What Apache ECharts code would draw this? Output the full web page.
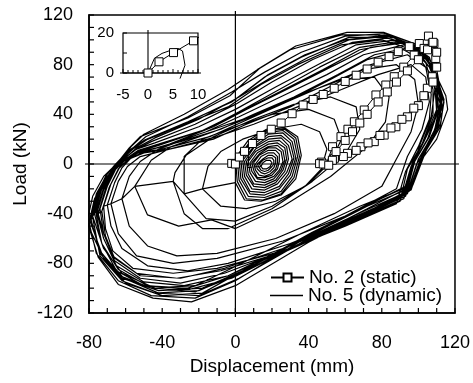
<!DOCTYPE html>
<html>
<head>
<meta charset="utf-8">
<script src="https://cdn.jsdelivr.net/npm/echarts/dist/echarts.min.js"></script>
<style>
  html, body { margin: 0; padding: 0; background: #fff; }
  #chart { width: 473px; height: 383px; }
</style>
</head>
<body>
<div id="chart"></div>
<script>
// Axis ticks (main plot and inset); minor steps give the small inward tick marks
const xTicks = [-80, -40, 0, 40, 80, 120];
const yTicks = [-120, -80, -40, 0, 40, 80, 120];
const insetXTicks = [-5, 0, 5, 10];
const insetYTicks = [0, 10, 20];
const mainMinorStep = 10;
const insetMinorStep = 1;

// No. 2 (static): monotonic push, then two unload / reload cycles near the peak
const staticLoad = [
  [-2, 0.5], [0, 0], [2.2, 5.6], [5, 10.2], [9.3, 16.5], [14, 23], [19.6, 28], [25, 33],
  [31, 40.5], [37, 47.5], [42.5, 52], [48, 56], [54, 61], [60, 66.5], [66, 71.5], [72, 76.5],
  [78, 82], [84, 86.5], [89, 90.5], [95, 94.5], [100.5, 97], [105.5, 103], [108.5, 97],
  [109.5, 85], [107.6, 70.3], [104.9, 61], [100, 47], [94, 38], [87.7, 30], [81.3, 23.3],
  [75.9, 18], [68.6, 13.9], [61.3, 8.6], [54.1, 4.6], [47, 1.5], [46, 0.3], [49.5, -0.8],
  [53.1, 13.9], [57.7, 22], [61.5, 28], [65, 34], [70.4, 43.5], [76.8, 55.6], [82.2, 63.6],
  [86.8, 70.3], [92, 78], [97.7, 87.7], [103.1, 93.1], [107.6, 97.2], [110, 90], [110, 78],
  [108, 66], [103, 55], [97.5, 45], [91, 36], [85, 29], [79, 23], [72.5, 17], [66, 11],
  [59, 6], [53, 3], [48, 0], [51, -1], [55, 10], [60, 19], [64, 26], [68, 33], [72, 40],
  [78, 50], [83, 58], [88, 66], [94, 75], [100, 84], [105, 92], [108, 98]
];

// First cycle of the static test, enlarged in the inset
const insetStatic = [[0, 0], [2.2, 5.6], [5.1, 10.2], [9.1, 16.1], [10.4, 18.3]];

// Start of the No. 5 (dynamic) record, enlarged in the inset
const insetDynamic = [[0, 0], [1.3, 7.4], [2.8, 9.8], [4.7, 11.5], [6, 12.3], [6.9, 11], [7.4, 3.9], [6.4, -2.8]];

// No. 5 (dynamic): hysteresis loops, small central cycles first, then the large cycles
const dynamicLoops = [
  [[14, -2], [15, 1], [17, 3], [19, 3], [20, 1], [19, -2], [17, -4], [15, -4], [14, -2]],
  [[13, -3], [13, 0], [15, 3], [18, 5], [20, 5], [21, 3], [21, 0], [20, -2], [18, -5], [16, -6], [14, -5], [13, -3]],
  [[12, -4], [12, 0], [15, 4], [18, 7], [20, 7], [22, 5], [22, 1], [21, -3], [19, -6], [16, -8], [14, -7], [12, -4]],
  [[11, -5], [11, 0], [14, 6], [18, 9], [21, 9], [23, 6], [23, 1], [22, -4], [19, -8], [16, -10], [13, -9], [11, -5]],
  [[10, -5], [10, 1], [13, 7], [18, 11], [22, 11], [24, 8], [24, 2], [23, -4], [20, -9], [16, -11], [12, -11], [10, -5]],
  [[9, -6], [9, 1], [13, 8], [18, 13], [22, 13], [25, 10], [26, 2], [24, -5], [21, -10], [16, -13], [12, -12], [9, -6]],
  [[8, -7], [8, 1], [12, 9], [18, 14], [23, 15], [26, 11], [27, 3], [25, -5], [21, -12], [16, -15], [11, -14], [8, -7]],
  [[7, -8], [7, 2], [11, 10], [18, 16], [23, 17], [27, 13], [28, 4], [26, -5], [22, -13], [16, -17], [10, -16], [7, -8]],
  [[6, -9], [6, 2], [11, 12], [18, 18], [24, 19], [28, 14], [29, 4], [27, -6], [22, -15], [16, -19], [10, -18], [6, -9]],
  [[5, -10], [5, 2], [10, 13], [18, 20], [25, 21], [29, 15], [31, 4], [28, -7], [23, -16], [16, -21], [9, -20], [5, -10]],
  [[4, -11], [4, 3], [10, 14], [18, 22], [25, 23], [30, 17], [32, 5], [29, -8], [24, -18], [16, -23], [8, -22], [4, -11]],
  [[3, -12], [3, 3], [9, 15], [18, 24], [26, 25], [31, 18], [33, 5], [30, -9], [24, -20], [16, -25], [8, -24], [3, -12]],
  [[2, -13], [2, 4], [8, 17], [17, 25], [26, 27], [32, 20], [34, 6], [31, -10], [25, -22], [16, -27], [7, -26], [2, -13]],
  [[1, -14], [1, 4], [8, 18], [17, 27], [27, 28], [33, 21], [35, 6], [32, -11], [25, -24], [15, -29], [6, -28], [1, -14]],
  [[0, -15], [0, 5], [7, 19], [17, 28], [27, 29], [34, 22], [36, 7], [33, -12], [25, -25], [14, -30], [5, -29], [0, -15]],
  [[-18, -20], [-15, -2], [-8, 10], [4, 20], [20, 28], [36, 32], [46, 26], [50, 12], [47, -4], [38, -18], [22, -30], [6, -36], [-8, -34], [-18, -20]],
  [[-28, -24], [-28, 6], [-18, 20], [0, 30], [20, 40], [40, 44], [54, 36], [58, 20], [52, 2], [40, -16], [20, -34], [0, -46], [-16, -44], [-28, -24]],
  [[-34, -14], [-33, -7], [-27, 7], [-12, 22], [10, 36], [32, 48], [52, 54], [66, 46], [68, 28], [60, 8], [42, -14], [20, -36], [-4, -52], [-18, -52], [-28, -40], [-34, -14]],
  [[-55, -18], [-46, 3], [-35, 14], [-12, 26], [12, 40], [36, 56], [58, 68], [76, 70], [84, 54], [82, 34], [72, 14], [52, -10], [26, -34], [0, -52], [-13, -45], [-31, -50], [-48, -41], [-55, -18]],
  [[-62, -28], [-58, -10], [-52, 2], [-42, 12], [-20, 24], [4, 36], [28, 50], [50, 64], [70, 76], [88, 80], [98, 68], [100, 48], [96, 26], [88, 4], [80, -18], [54, -40], [22, -60], [-10, -72], [-32, -74], [-48, -66], [-58, -50], [-62, -28]],
  [[-68, -32], [-64, -14], [-59, -2], [-52, 6], [-36, 12], [-10, 22], [10, 32], [34, 46], [58, 60], [78, 72], [96, 80], [104, 70], [106, 50], [102, 28], [94, 6], [88, -20], [60, -42], [26, -62], [-10, -76], [-34, -80], [-54, -74], [-64, -56], [-68, -32]],
  [[-70, -33], [-66, -15], [-62, -3], [-57, 5], [-48, 11], [-30, 18], [-8, 28], [10, 40], [32, 54], [56, 72], [76, 88], [96, 94], [106, 82], [109, 60], [107, 38], [101, 16], [95, -10], [90, -28], [62, -45], [30, -64], [-4, -80], [-26, -86], [-48, -82], [-62, -68], [-68, -50], [-70, -33]],
  [[-72, -34], [-68, -16], [-63, -2], [-58, 4], [-50, 9], [-36, 12], [-12, 20], [6, 32], [30, 46], [54, 64], [74, 80], [94, 88], [104, 78], [107, 56], [106, 36], [100, 14], [93, -6], [88, -32], [60, -50], [26, -70], [-10, -84], [-34, -88], [-56, -84], [-67, -70], [-71, -52], [-72, -34]],
  [[-73, -38], [-69, -19], [-64, -4], [-59, 3], [-50, 10], [-36, 16], [-12, 30], [6, 44], [28, 60], [52, 78], [74, 94], [94, 98], [106, 86], [111, 62], [110, 40], [103, 18], [96, -2], [91, -27], [64, -44], [30, -66], [-6, -84], [-30, -92], [-52, -90], [-66, -76], [-71, -58], [-73, -38]],
  [[-75, -40], [-71, -20], [-66, -5], [-61, 2], [-53, 9], [-40, 12], [-14, 22], [4, 34], [28, 50], [52, 68], [72, 84], [92, 92], [104, 82], [108, 60], [108, 40], [102, 16], [94, -4], [90, -30], [62, -48], [28, -70], [-8, -86], [-32, -92], [-54, -88], [-67, -74], [-72, -56], [-75, -40]],
  [[-74, -36], [-70, -18], [-65, -3], [-60, 4], [-52, 10], [-40, 14], [-16, 26], [2, 38], [26, 55], [50, 72], [70, 88], [92, 96], [105, 86], [109, 63], [110, 42], [105, 20], [97, 0], [92, -28], [64, -46], [30, -68], [-6, -88], [-30, -96], [-52, -92], [-66, -78], [-72, -56], [-74, -36]],
  [[-76, -41], [-72, -21], [-67, -6], [-62, 2], [-53, 11], [-42, 16], [-16, 28], [2, 42], [24, 60], [46, 78], [68, 94], [90, 99], [104, 88], [110, 66], [110, 44], [104, 22], [97, 2], [92, -25], [66, -42], [32, -64], [-4, -90], [-26, -100], [-50, -98], [-65, -86], [-73, -64], [-76, -41]],
  [[-76, -38], [-72, -19], [-66, -4], [-61, 3], [-53, 10], [-42, 15], [-18, 27], [0, 40], [24, 58], [48, 76], [68, 92], [90, 98], [104, 88], [110, 66], [111, 44], [106, 22], [98, 2], [93, -26], [66, -44], [33, -66], [-4, -90], [-28, -98], [-50, -95], [-65, -82], [-72, -60], [-76, -38]],
  [[-77, -40], [-73, -20], [-67, -5], [-62, 3], [-54, 12], [-44, 17], [-20, 30], [0, 44], [22, 62], [45, 80], [66, 96], [88, 100], [103, 90], [111, 68], [113, 47], [108, 24], [100, 4], [94, -24], [68, -42], [36, -64], [-2, -92], [-25, -101], [-48, -98], [-64, -85], [-73, -64], [-77, -40]],
  [[-78, -42], [-74, -22], [-68, -6], [-63, 2], [-55, 11], [-46, 18], [-22, 32], [0, 48], [20, 66], [42, 84], [64, 98], [86, 102], [101, 93], [110, 72], [112, 50], [109, 28], [102, 8], [95, -22], [70, -40], [38, -62], [0, -90], [-22, -103], [-44, -100], [-62, -88], [-72, -68], [-78, -42]],
  [[-78, -43], [-74, -23], [-68, -7], [-63, 1], [-54, 13], [-44, 21], [-20, 36], [2, 54], [20, 70], [40, 86], [62, 100], [84, 103], [99, 95], [109, 74], [114, 52], [112, 30], [103, 8], [96, -19], [72, -34], [40, -58], [2, -88], [-20, -102], [-44, -104], [-62, -94], [-74, -74], [-78, -43]],
  [[-79, -45], [-75, -25], [-69, -9], [-64, 0], [-57, 14], [-50, 24], [-28, 40], [-4, 60], [12, 76], [30, 92], [58, 104], [78, 104], [95, 96], [106, 78], [112, 55], [113, 42], [107, 18], [99, 0], [95, -18], [68, -34], [36, -56], [-2, -84], [-22, -98], [-46, -100], [-63, -90], [-74, -70], [-79, -45]],
  [[-79, -44], [-75, -24], [-69, -8], [-64, 0], [-56, 13], [-49, 22], [-26, 38], [-2, 58], [16, 74], [36, 90], [60, 103], [82, 105], [98, 97], [108, 77], [113, 54], [111, 34], [104, 12], [97, -16], [72, -33], [40, -57], [4, -86], [-18, -100], [-42, -102], [-62, -92], [-74, -72], [-79, -44]],
  [[-80, -44], [-76, -24], [-70, -8], [-64, 1], [-56, 12], [-48, 20], [-24, 35], [0, 52], [18, 72], [38, 88], [60, 100], [84, 104], [100, 96], [110, 76], [113, 52], [111, 30], [104, 10], [97, -17], [72, -36], [40, -60], [2, -92], [-20, -106], [-42, -104], [-61, -92], [-73, -72], [-80, -44]],
  [[-80, -47], [-76, -26], [-71, -10], [-66, -1], [-59, 10], [-51, 18], [-28, 32], [-4, 46], [14, 64], [34, 80], [58, 96], [80, 100], [97, 92], [107, 72], [112, 48], [110, 26], [102, 6], [96, -21], [70, -38], [38, -60], [0, -94], [-22, -108], [-46, -106], [-64, -94], [-76, -72], [-80, -47]],
  [[-81, -48], [-77, -28], [-70, -10], [-65, -1], [-58, 11], [-50, 19], [-26, 34], [-2, 50], [16, 70], [36, 86], [62, 102], [82, 102], [98, 94], [108, 74], [114, 50], [112, 32], [104, 12], [97, -15], [74, -32], [42, -55], [4, -86], [-18, -104], [-40, -106], [-60, -96], [-72, -76], [-81, -48]],
  [[-81, -46], [-78, -26], [-72, -10], [-65, 0], [-58, 13], [-52, 22], [-26, 37], [-3, 55], [14, 78], [33, 95], [61, 106], [81, 106], [96, 98], [107, 80], [115, 55], [116, 44], [110, 20], [101, 2], [96, -20], [70, -40], [40, -63], [0, -98], [-24, -111], [-45, -108], [-64, -97], [-75, -75], [-81, -46]]
];

const FONT = '"Liberation Sans", Arial, sans-serif';
const BLACK = '#000';

// Full dynamic trace: initial push followed by every loop in order
const dynamicPath = insetDynamic.concat(...dynamicLoops);

// Frame decorations for a cartesian grid: zero lines that overshoot the frame,
// plus inward ticks along the bottom and left edges, all placed through the axis scales.
function frameMarks(opts) {
  return function (params, api) {
    const cs = params.coordSys;
    const o = api.coord([0, 0]);
    const bottom = cs.y + cs.height;
    const children = [
      { type: 'line', shape: { x1: cs.x - opts.over, y1: o[1], x2: cs.x + cs.width + opts.over, y2: o[1] },
        style: { stroke: BLACK, lineWidth: opts.zeroWidth } },
      { type: 'line', shape: { x1: o[0], y1: cs.y - opts.over, x2: o[0], y2: bottom + opts.over },
        style: { stroke: BLACK, lineWidth: opts.zeroWidth } }
    ];
    for (let v = opts.xMin; v <= opts.xMax + 1e-9; v += opts.xStep) {
      const px = api.coord([v, opts.yMin])[0];
      const len = (Math.abs(v % opts.xMajor) < 1e-9) ? opts.majorLen : opts.minorLen;
      children.push({ type: 'line', shape: { x1: px, y1: bottom, x2: px, y2: bottom - len },
        style: { stroke: BLACK, lineWidth: opts.tickWidth } });
    }
    for (let v = opts.yMin; v <= opts.yMax + 1e-9; v += opts.yStep) {
      const py = api.coord([opts.xMin, v])[1];
      children.push({ type: 'line', shape: { x1: cs.x, y1: py, x2: cs.x + opts.majorLen, y2: py },
        style: { stroke: BLACK, lineWidth: opts.tickWidth } });
    }
    return { type: 'group', children };
  };
}

const chart = echarts.init(document.getElementById('chart'), null, { renderer: 'canvas' });

const mainAxisBase = {
  type: 'value',
  axisTick: { show: false },
  minorTick: { show: false },
  splitLine: { show: false }
};

chart.setOption({
  backgroundColor: '#fff',
  animation: false,
  textStyle: { fontFamily: FONT, color: BLACK },
  grid: [
    { left: 89, top: 15, width: 367, height: 298, show: true, borderColor: BLACK, borderWidth: 1.5, backgroundColor: 'transparent' },
    { left: 123, top: 33, width: 75, height: 40, show: true, borderColor: BLACK, borderWidth: 1.2, backgroundColor: '#fff', z: 5 }
  ],
  legend: [
    {
      orient: 'vertical', left: 270, top: 268,
      itemWidth: 33, itemHeight: 10, itemGap: 0, padding: 0,
      textStyle: { fontSize: 19, color: BLACK, fontFamily: FONT, lineHeight: 19 },
      data: ['No. 2 (static)']
    },
    {
      orient: 'vertical', left: 270, top: 286, icon: 'rect',
      itemWidth: 33, itemHeight: 1.3, itemGap: 0, padding: 0,
      textStyle: { fontSize: 19, color: BLACK, fontFamily: FONT, lineHeight: 19 },
      data: ['No. 5 (dynamic)']
    }
  ],
  xAxis: [
    Object.assign({}, mainAxisBase, {
      gridIndex: 0,
      min: xTicks[0], max: xTicks[xTicks.length - 1], interval: xTicks[1] - xTicks[0],
      axisLine: { show: true, onZero: false, lineStyle: { color: BLACK, width: 1.6 } },
      axisLabel: { fontSize: 18, color: BLACK, margin: 21, fontFamily: FONT },
      name: 'Displacement (mm)', nameLocation: 'middle', nameGap: 44, nameMoveOverlap: false,
      nameTextStyle: { fontSize: 19, color: BLACK, fontFamily: FONT }
    }),
    Object.assign({}, mainAxisBase, {
      gridIndex: 1,
      min: insetXTicks[0], max: insetXTicks[insetXTicks.length - 1], interval: insetXTicks[1] - insetXTicks[0],
      axisLine: { show: false, onZero: false },
      axisLabel: { fontSize: 15, color: BLACK, margin: 14, fontFamily: FONT }
    })
  ],
  yAxis: [
    Object.assign({}, mainAxisBase, {
      gridIndex: 0,
      min: yTicks[0], max: yTicks[yTicks.length - 1], interval: yTicks[1] - yTicks[0],
      axisLine: { show: true, onZero: false, lineStyle: { color: BLACK, width: 1.6 } },
      axisLabel: { fontSize: 18, color: BLACK, margin: 16, fontFamily: FONT },
      name: 'Load (kN)', nameLocation: 'middle', nameGap: 59, nameMoveOverlap: false,
      nameTextStyle: { fontSize: 19, color: BLACK, fontFamily: FONT }
    }),
    Object.assign({}, mainAxisBase, {
      gridIndex: 1,
      min: insetYTicks[0], max: insetYTicks[insetYTicks.length - 1], interval: insetYTicks[1] - insetYTicks[0],
      axisLine: { show: false, onZero: false },
      axisLabel: {
        fontSize: 15, color: BLACK, margin: 9, fontFamily: FONT,
        formatter: v => (v === insetYTicks[0] || v === insetYTicks[insetYTicks.length - 1]) ? String(v) : ''
      }
    })
  ],
  series: [
    {
      type: 'custom', xAxisIndex: 0, yAxisIndex: 0, silent: true, clip: false, z: 1,
      data: [[0, 0]],
      renderItem: frameMarks({
        over: 4, zeroWidth: 1.2, tickWidth: 1.2, majorLen: 5, minorLen: 5,
        xMin: xTicks[0], xMax: xTicks[xTicks.length - 1], xStep: mainMinorStep, xMajor: xTicks[1] - xTicks[0],
        yMin: yTicks[0], yMax: yTicks[yTicks.length - 1], yStep: mainMinorStep
      })
    },
    {
      name: 'No. 5 (dynamic)', type: 'line', xAxisIndex: 0, yAxisIndex: 0,
      data: dynamicPath, symbol: 'none', showSymbol: false, smooth: false,
      lineStyle: { color: BLACK, width: 1.2 }, itemStyle: { color: BLACK }, z: 2, silent: true
    },
    {
      name: 'No. 2 (static)', type: 'line', xAxisIndex: 0, yAxisIndex: 0,
      data: staticLoad, symbol: 'rect', symbolSize: 8, showAllSymbol: true,
      lineStyle: { color: BLACK, width: 1 },
      itemStyle: { color: '#fff', borderColor: BLACK, borderWidth: 1 }, z: 3, silent: true
    },
    {
      type: 'custom', xAxisIndex: 1, yAxisIndex: 1, silent: true, clip: false, z: 6,
      data: [[0, 0]],
      renderItem: frameMarks({
        over: 3, zeroWidth: 1.1, tickWidth: 1, majorLen: 4, minorLen: 3,
        xMin: insetXTicks[0], xMax: insetXTicks[insetXTicks.length - 1], xStep: insetMinorStep, xMajor: insetXTicks[1] - insetXTicks[0],
        yMin: insetYTicks[0], yMax: insetYTicks[insetYTicks.length - 1], yStep: insetYTicks[1] - insetYTicks[0]
      })
    },
    {
      name: 'No. 5 (dynamic)', type: 'line', xAxisIndex: 1, yAxisIndex: 1, clip: false,
      data: insetDynamic, symbol: 'none', showSymbol: false,
      lineStyle: { color: BLACK, width: 1 }, itemStyle: { color: BLACK }, z: 7, silent: true
    },
    {
      name: 'No. 2 (static)', type: 'line', xAxisIndex: 1, yAxisIndex: 1, clip: false,
      data: insetStatic.map((p, i) => i === insetStatic.length - 1 ? { value: p, symbol: 'none' } : p),
      symbol: 'rect', symbolSize: 8, showAllSymbol: true,
      lineStyle: { color: BLACK, width: 1 },
      itemStyle: { color: '#fff', borderColor: BLACK, borderWidth: 1 }, z: 8, silent: true
    }
  ]
});
</script>
</body>
</html>
